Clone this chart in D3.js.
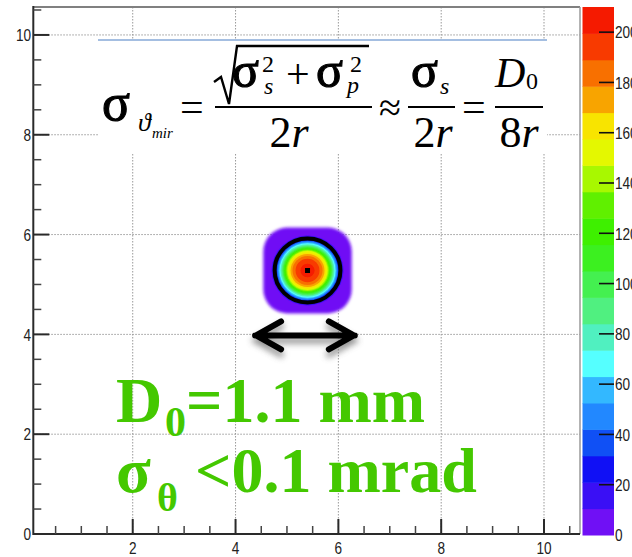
<!DOCTYPE html>
<html><head><meta charset="utf-8">
<script src="https://cdn.jsdelivr.net/npm/d3@7"></script>
<style>body{margin:0;background:#fff}svg{display:block}</style>
</head><body><svg id="c" width="632" height="557"></svg>
<script>
// ---------- data ----------
const xTicks = [2, 4, 6, 8, 10];
const yTicks = [0, 2, 4, 6, 8, 10];
const xMinorTicks = [0.5,1,1.5,2.5,3,3.5,4.5,5,5.5,6.5,7,7.5,8.5,9,9.5,10.5];
const yMinorTicks = [0.5,1,1.5,2.5,3,3.5,4.5,5,5.5,6.5,7,7.5,8.5,9,9.5,10.5];
const zTicks = [0, 20, 40, 60, 80, 100, 120, 140, 160, 180, 200];
const zTickLabels = ["0","20","40","60","80","100","120","140","160","180","200"];
const zMax = 210;
const paletteColors = ['#7010f5','#3a0ff5','#1010f5','#1050f5','#2288ff','#33b8ff','#55ffff','#50f0c0','#50f080','#44f050',
                       '#3cf020','#3ef000','#60f000','#a8f800','#e4f800','#f8e400','#f8a400','#f87000','#f83a00','#f51a00'];
// spot: contour band levels (z) and radius (x units)
const spotCenter = [5.40, 5.28];
const spotLevels = [5, 15.5, 26, 36.5, 47, 57.5, 68, 78.5, 89, 99.5, 110, 120.5, 131, 141.5, 152, 162.5, 173, 183.5, 194, 204.5];
const spotRadii  = [0.86, 0.70, 0.62, 0.603, 0.584, 0.564, 0.545, 0.525, 0.506, 0.486, 0.467, 0.447, 0.428, 0.409, 0.389, 0.36, 0.331, 0.292, 0.233, 0.136];
const ringRadius = 0.64;
const arrowX = [4.38, 6.32];
const arrowY = 3.98;

// ---------- scales ----------
const x = d3.scaleLinear().domain([0.066, 10.70]).range([33.3, 580]);
const y = d3.scaleLinear().domain([0, 10.56]).range([534, 7]);
const z = d3.scaleLinear().domain([0, zMax]).range([535, 7]);
const color = d3.scaleQuantize().domain([0, zMax]).range(paletteColors);

const svg = d3.select('#c');
const defs = svg.append('defs');
defs.append('filter').attr('id','fuzz').attr('x','-20%').attr('y','-20%').attr('width','140%').attr('height','140%')
  .append('feGaussianBlur').attr('stdDeviation', 1.4);
defs.append('filter').attr('id','soft').attr('x','-20%').attr('y','-20%').attr('width','140%').attr('height','140%')
  .append('feGaussianBlur').attr('stdDeviation', 0.7);
defs.append('filter').attr('id','shadow').attr('x','-20%').attr('y','-50%').attr('width','140%').attr('height','200%')
  .append('feGaussianBlur').attr('stdDeviation', 3);

// ---------- grid ----------
const grid = svg.append('g').attr('stroke','#999').attr('stroke-width',1).attr('stroke-dasharray','1.5,1.5');
grid.selectAll('.gx').data(xTicks).join('line')
  .attr('x1', d => x(d)).attr('x2', d => x(d)).attr('y1', y.range()[1]).attr('y2', y.range()[0]);
grid.selectAll('.gy').data(yTicks.filter(d => d > 0)).join('line')
  .attr('y1', d => y(d)).attr('y2', d => y(d)).attr('x1', x.range()[0]).attr('x2', x.range()[1]);

// ---------- formula box ----------
svg.append('rect').attr('x',98).attr('y',40).attr('width',449).attr('height',113).attr('fill','#fff');
svg.append('line').attr('x1',98).attr('x2',547).attr('y1',40).attr('y2',40).attr('stroke','#4a7ec4').attr('stroke-width',1.2);

const f = svg.append('g').attr('font-family','"Liberation Serif", "Times New Roman", serif').attr('fill','#000');
function t(txt, px, py, size, opts = {}) {
  const e = f.append('text').attr('x', px).attr('y', py).attr('font-size', size).text(txt);
  if (opts.italic) e.attr('font-style','italic');
  if (opts.anchor) e.attr('text-anchor', opts.anchor);
  if (opts.heavy) e.attr('stroke','#000').attr('stroke-width', 1.1);
  return e;
}
t('σ', 102, 120, 52, {heavy:true});
t('ϑ', 138, 131, 26, {italic:true});
t('mir', 152, 138, 15, {italic:true});
t('=', 180, 121, 42);
f.append('path').attr('d','M214,82 L221,77 L229,104 L237,46 L369,46').attr('fill','none').attr('stroke','#000').attr('stroke-width',2.4);
t('σ', 232, 87, 50, {heavy:true});
t('2', 262, 72, 24);
t('s', 264, 94, 24, {italic:true});
t('+', 286, 88, 42);
t('σ', 316, 87, 50, {heavy:true});
t('2', 350, 72, 24);
t('p', 347, 93, 24, {italic:true});
f.append('line').attr('x1',215).attr('x2',372).attr('y1',107).attr('y2',107).attr('stroke','#000').attr('stroke-width',2);
const d1 = t('2', 289, 147, 44, {anchor:'middle'}); d1.append('tspan').attr('font-style','italic').text('r');
t('≈', 379, 121, 40);
t('σ', 411, 87, 50, {heavy:true});
t('s', 440, 94, 24, {italic:true});
f.append('line').attr('x1',408).attr('x2',455).attr('y1',107).attr('y2',107).attr('stroke','#000').attr('stroke-width',2);
const d2 = t('2', 433, 147, 44, {anchor:'middle'}); d2.append('tspan').attr('font-style','italic').text('r');
t('=', 462, 121, 42);
t('D', 495, 87, 42, {italic:true});
t('0', 526, 89, 24);
f.append('line').attr('x1',495).attr('x2',543).attr('y1',107).attr('y2',107).attr('stroke','#000').attr('stroke-width',2);
const d3t = t('8', 519, 147, 44, {anchor:'middle'}); d3t.append('tspan').attr('font-style','italic').text('r');

// ---------- spot (2D histogram contours) ----------
const cx = x(spotCenter[0]), cy = y(spotCenter[1]);
const sx = r => x(spotCenter[0] + r) - cx;
const sy = r => cy - y(spotCenter[1] + r);
const spot = svg.append('g');
spot.append('rect')
  .attr('x', cx - sx(spotRadii[0])).attr('y', cy - sy(spotRadii[0]))
  .attr('width', 2 * sx(spotRadii[0])).attr('height', 2 * sy(spotRadii[0]))
  .attr('rx', 24).attr('fill', color(spotLevels[0])).attr('filter','url(#fuzz)');
const inner = spot.append('g').attr('filter','url(#soft)');
inner.selectAll('ellipse').data(spotLevels.slice(1).map((l, i) => ({l, r: spotRadii[i + 1]}))).join('ellipse')
  .attr('cx', cx).attr('cy', cy).attr('rx', d => sx(d.r)).attr('ry', d => sy(d.r))
  .attr('fill', d => color(d.l));
spot.append('ellipse').attr('cx', cx).attr('cy', cy).attr('rx', sx(ringRadius)).attr('ry', sy(ringRadius))
  .attr('fill','none').attr('stroke','#000').attr('stroke-width',4);
spot.append('rect').attr('x', cx - 2.5).attr('y', cy - 2.5).attr('width',5).attr('height',5).attr('fill','#000');

// ---------- arrow ----------
function arrowPath(dy) {
  const x1 = x(arrowX[0]), x2 = x(arrowX[1]), ay = y(arrowY) + dy;
  return `M${x1},${ay} L${x2},${ay} M${x1+26},${ay-14} L${x1+1},${ay} L${x1+26},${ay+14} M${x2-26},${ay-14} L${x2-1},${ay} L${x2-26},${ay+14}`;
}
svg.append('path').attr('d', arrowPath(5)).attr('fill','none').attr('stroke','#777').attr('stroke-width',6)
  .attr('stroke-linecap','round').attr('stroke-linejoin','round').attr('filter','url(#shadow)').attr('opacity',0.8);
svg.append('path').attr('d', arrowPath(0)).attr('fill','none').attr('stroke','#000').attr('stroke-width',6)
  .attr('stroke-linecap','round').attr('stroke-linejoin','round');

// ---------- green annotations ----------
const g = svg.append('g').attr('font-family','"Liberation Serif", "Times New Roman", serif').attr('font-weight','bold').attr('fill','#44c800');
g.append('text').attr('x',116).attr('y',422).attr('font-size',64).text('D');
g.append('text').attr('x',165).attr('y',436).attr('font-size',42).text('0');
g.append('text').attr('x',186).attr('y',422).attr('font-size',64).text('=1.1 mm');
g.append('text').attr('x',116).attr('y',492).attr('font-size',64).text('σ');
g.append('text').attr('x',157).attr('y',511).attr('font-size',40).text('θ');
g.append('text').attr('x',195).attr('y',492).attr('font-size',64).text('<0.1 mrad');

// ---------- frame & axes ----------
const ax = svg.append('g');
ax.append('line').attr('x1', x.range()[0]).attr('x2', x.range()[1]).attr('y1', 7).attr('y2', 7).attr('stroke','#808080').attr('stroke-width',2);
ax.append('line').attr('x1', 580).attr('x2', 580).attr('y1', 7).attr('y2', 534).attr('stroke','#9a9a9a').attr('stroke-width',1.5);
ax.append('line').attr('x1', x.range()[0]).attr('x2', x.range()[0]).attr('y1', 6).attr('y2', 535).attr('stroke','#2a2a2a').attr('stroke-width',2);
ax.append('line').attr('x1', x.range()[0]).attr('x2', 580).attr('y1', 534).attr('y2', 534).attr('stroke','#2a2a2a').attr('stroke-width',2);
ax.selectAll('.ymaj').data(yTicks).join('line').attr('x1', x.range()[0]).attr('x2', x.range()[0] + 16)
  .attr('y1', d => y(d)).attr('y2', d => y(d)).attr('stroke','#2a2a2a').attr('stroke-width',2);
ax.selectAll('.ymin').data(yMinorTicks).join('line').attr('x1', x.range()[0]).attr('x2', x.range()[0] + 8)
  .attr('y1', d => y(d)).attr('y2', d => y(d)).attr('stroke','#444').attr('stroke-width',1.5);
ax.selectAll('.xmaj').data(xTicks).join('line').attr('y1', 534).attr('y2', 534 - 15)
  .attr('x1', d => x(d)).attr('x2', d => x(d)).attr('stroke','#2a2a2a').attr('stroke-width',2);
ax.selectAll('.xmin').data(xMinorTicks).join('line').attr('y1', 534).attr('y2', 534 - 8)
  .attr('x1', d => x(d)).attr('x2', d => x(d)).attr('stroke','#444').attr('stroke-width',1.5);

const lab = svg.append('g').attr('font-family','"Liberation Sans", Arial, sans-serif').attr('font-size',17).attr('fill','#222');
lab.selectAll('.yl').data(yTicks).join('text')
  .attr('transform', d => `translate(31,${y(d) + 6.3}) scale(0.8,1)`).attr('text-anchor','end').text(d => d);
lab.selectAll('.xl').data(xTicks).join('text')
  .attr('transform', d => `translate(${x(d)},554) scale(0.8,1)`).attr('text-anchor','middle').text(d => d);

// ---------- colour bar ----------
const bands = paletteColors.map((c, i) => ({c, lo: i * zMax / paletteColors.length, hi: (i + 1) * zMax / paletteColors.length}));
const cb = svg.append('g');
cb.selectAll('rect').data(bands).join('rect')
  .attr('x', 582.5).attr('width', 31.5)
  .attr('y', d => z(d.hi)).attr('height', d => z(d.lo) - z(d.hi) + 0.5)
  .attr('fill', d => d.c);
cb.selectAll('line').data(zTicks.slice(1)).join('line')
  .attr('x1', 599).attr('x2', 614).attr('y1', d => z(d)).attr('y2', d => z(d))
  .attr('stroke','#111').attr('stroke-width',1.6);
lab.selectAll('.zl').data(zTicks).join('text')
  .attr('transform', d => `translate(615,${z(d) + 6.3}) scale(0.8,1)`).text((d, i) => zTickLabels[i]);
</script></body></html>
